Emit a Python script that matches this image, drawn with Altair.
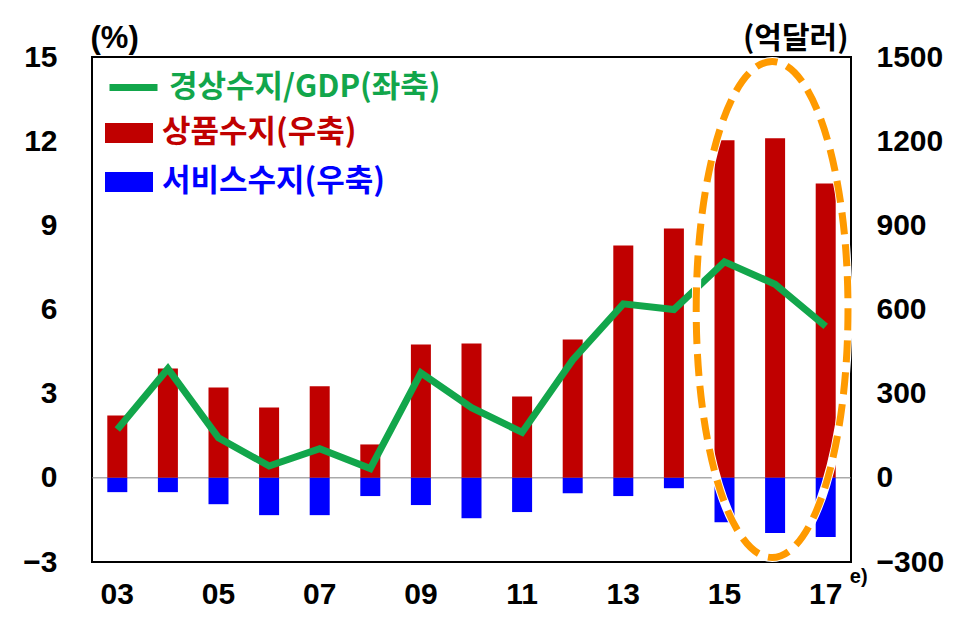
import altair as alt
import pandas as pd

# ---------------- data ----------------
years = ["03", "04", "05", "06", "07", "08", "09", "10", "11", "12", "13", "14", "15", "16", "17"]
year_labels = ["03", "05", "07", "09", "11", "13", "15", "17"]
goods_balance = [222, 390, 322, 251, 326, 119, 475, 479, 290, 493, 828, 889, 1203, 1210, 1049]      # 억달러 (right)
service_balance = [-51, -51, -94, -133, -133, -65, -97, -144, -122, -55, -65, -37, -158, -197, -211]  # 억달러 (right)
ca_to_gdp = [1.72, 3.89, 1.43, 0.42, 1.04, 0.33, 3.74, 2.5, 1.62, 4.2, 6.2, 6.0, 7.7, 6.9, 5.4]      # % (left)

series_names = ["경상수지/GDP(좌축)", "상품수지(우축)", "서비스수지(우축)"]
left_ticks = [-3, 0, 3, 6, 9, 12, 15]
right_ticks = [-300, 0, 300, 600, 900, 1200, 1500]
highlight_year = ["16"]
highlight_level = [6.0]
estimate_year = ["17"]

GREEN = "#12a64b"
RED = "#c00000"
BLUE = "#0000ff"
ORANGE = "#ff9a00"

NUM_FONT = "Liberation Sans"
KR_FONT = "Noto Sans CJK KR"

df = pd.DataFrame({
    "year": years,
    "goods": goods_balance,
    "services": service_balance,
    "ca": ca_to_gdp,
    "s_ca": series_names[0],
    "s_goods": series_names[1],
    "s_serv": series_names[2],
})
zero_df = pd.DataFrame({"z": [0]})
hl_df = pd.DataFrame({"year": highlight_year, "v": highlight_level})
est_df = pd.DataFrame({"year": estimate_year, "v": [left_ticks[0]]})

W, H = 759, 505
NUM_SIZE = 30

x_enc = alt.X(
    "year:N",
    sort=years,
    scale=alt.Scale(paddingInner=0, paddingOuter=0),
    axis=alt.Axis(
        title=None, ticks=False, domain=False, labelAngle=0, values=year_labels,
        labelFont=NUM_FONT, labelFontSize=NUM_SIZE, labelFontWeight="bold",
        labelColor="black", labelPadding=17,
    ),
)

right_scale = alt.Scale(domain=[-300, 1500], nice=False, zero=False)
right_axis = alt.Axis(
    orient="right", values=right_ticks, format="d", grid=False, ticks=False, domain=False,
    labelFont=NUM_FONT, labelFontSize=NUM_SIZE, labelFontWeight="bold", labelColor="black",
    labelPadding=25,
    title="(억달러)", titleAngle=0, titleAlign="right", titleBaseline="middle",
    titleX=-3, titleY=-19, titleFont=KR_FONT, titleFontSize=30, titleFontWeight="bold",
    titleColor="black",
)
left_scale = alt.Scale(domain=[-3, 15], nice=False, zero=False)
left_axis = alt.Axis(
    orient="left", values=left_ticks, grid=False, ticks=False, domain=False,
    labelFont=NUM_FONT, labelFontSize=NUM_SIZE, labelFontWeight="bold", labelColor="black",
    labelPadding=35,
    title="(%)", titleAngle=0, titleAlign="left", titleBaseline="middle",
    titleX=-2, titleY=-19, titleFont=NUM_FONT, titleFontSize=31, titleFontWeight="bold",
    titleColor="black",
)

RECT_PATH = "M-1,-0.42H1V0.42H-1Z"
LEG_SIZE = 31

def bar_legend(color, ly):
    return alt.Legend(
        orient="none", legendX=13, legendY=ly, title=None, padding=0,
        symbolType=RECT_PATH, symbolSize=2304, symbolStrokeWidth=0,
        labelFont=KR_FONT, labelFontSize=LEG_SIZE, labelFontWeight="bold",
        labelColor=color, labelOffset=9, labelLimit=400,
    )

zero_rule = alt.Chart(zero_df).mark_rule(color="#808080", strokeWidth=1).encode(
    y=alt.Y("z:Q", scale=right_scale, axis=right_axis)
)

goods_bar = alt.Chart(df).mark_bar(size=20).encode(
    x=x_enc,
    y=alt.Y("goods:Q", scale=right_scale, axis=right_axis, stack=None),
    color=alt.Color("s_goods:N", scale=alt.Scale(domain=[series_names[1]], range=[RED]),
                    legend=bar_legend(RED, 52)),
)
serv_bar = alt.Chart(df).mark_bar(size=20).encode(
    x=x_enc,
    y=alt.Y("services:Q", scale=right_scale, axis=right_axis, stack=None),
    color=alt.Color("s_serv:N", scale=alt.Scale(domain=[series_names[2]], range=[BLUE]),
                    legend=bar_legend(BLUE, 101)),
)

right_group = alt.layer(zero_rule, goods_bar, serv_bar).resolve_scale(color="independent")

ca_line = alt.Chart(df).mark_line(strokeWidth=7).encode(
    x=x_enc,
    y=alt.Y("ca:Q", scale=left_scale, axis=left_axis),
    color=alt.Color("s_ca:N", scale=alt.Scale(domain=[series_names[0]], range=[GREEN]),
                    legend=alt.Legend(
                        orient="none", legendX=14, legendY=3, title=None, padding=0,
                        symbolType="stroke", symbolSize=2304, symbolStrokeWidth=7,
                        labelFont=KR_FONT, labelFontSize=LEG_SIZE, labelFontWeight="bold",
                        labelColor=GREEN, labelOffset=8, labelLimit=400,
                    )),
)

a, k = 0.306, 0.5523
ka, kb = k * a, k
ELLIPSE = (f"M{-a},0 C{-a},{-kb} {-ka},-1 0,-1 C{ka},-1 {a},{-kb} {a},0 "
           f"C{a},{kb} {ka},1 0,1 C{-ka},1 {-a},{kb} {-a},0 Z")

ell_white = alt.Chart(hl_df).mark_point(
    shape=ELLIPSE, size=496 * 496, filled=False, stroke="white", strokeWidth=9,
    opacity=1, xOffset=-3,
).encode(x=x_enc, y=alt.Y("v:Q", scale=left_scale, axis=left_axis))

ell_orange = alt.Chart(hl_df).mark_point(
    shape=ELLIPSE, size=496 * 496, filled=False, stroke=ORANGE, strokeWidth=7,
    strokeDash=[22, 10], opacity=1, xOffset=-3,
).encode(x=x_enc, y=alt.Y("v:Q", scale=left_scale, axis=left_axis))

est_text = alt.Chart(est_df).mark_text(
    text="e)", dx=33, dy=15, font=NUM_FONT, fontSize=20, fontWeight="bold", color="black",
).encode(x=x_enc, y=alt.Y("v:Q", scale=left_scale, axis=left_axis))

left_group = alt.layer(ca_line, ell_white, ell_orange, est_text)

chart = (
    alt.layer(right_group, left_group)
    .resolve_scale(y="independent", color="independent")
    .properties(
        width=W, height=H,
        autosize=alt.AutoSizeParams(type="none"),
        padding={"left": 92, "top": 57, "right": 126, "bottom": 76},
        background="white",
    )
    .configure_view(stroke="black", strokeWidth=2)
)

chart.save("out.html", embed_options={"renderer": "svg", "actions": False})
